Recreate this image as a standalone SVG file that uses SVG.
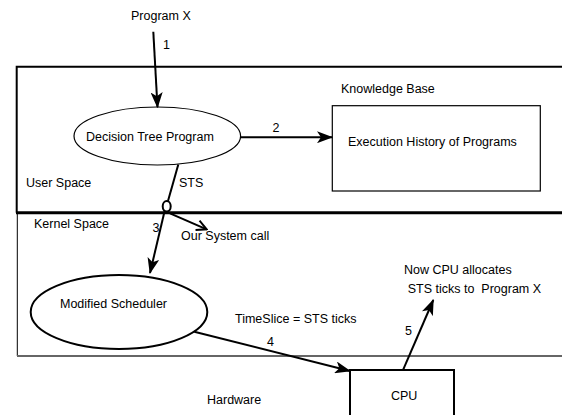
<svg xmlns="http://www.w3.org/2000/svg" width="562" height="415" viewBox="0 0 562 415">
<style>
text{font-family:"Liberation Sans",Arial,sans-serif;font-size:12.5px;fill:#000;white-space:pre}
.c{fill:none;stroke:#000;stroke-width:2}
</style>
<defs>
<marker id="ah" viewBox="0 0 16 12" refX="15" refY="6" markerWidth="16" markerHeight="12" markerUnits="userSpaceOnUse" orient="auto">
<path d="M0,0 L16,6 L0,12 L4,6 z" fill="#000"/>
</marker>
<marker id="open" viewBox="0 0 12 12" refX="11" refY="6" markerWidth="12" markerHeight="12" markerUnits="userSpaceOnUse" orient="auto">
<path d="M1,1 L11,6 L1,11" fill="none" stroke="#000" stroke-width="2"/>
</marker>
</defs>
<rect width="562" height="415" fill="#fff"/>
<g id="user-space">
<path d="M563,66.7 H16.7 V212.7" fill="none" stroke="#000" stroke-width="2"/>
<text x="26" y="187">User Space</text>
</g>
<g id="kernel-space">
<path d="M17.3,212.7 V356" fill="none" stroke="#000" stroke-width="1"/>
<path d="M17,356 H563" fill="none" stroke="#666" stroke-width="2"/>
<text x="34" y="227.5">Kernel Space</text>
</g>
<path d="M16,212.7 H563" fill="none" stroke="#000" stroke-width="3"/>
<g id="hardware"><text x="207" y="404">Hardware</text></g>
<g id="program-x"><text x="131" y="20">Program X</text></g>
<g id="decision-tree">
<ellipse cx="157.3" cy="136" rx="83.3" ry="29" fill="#fff" stroke="#000" stroke-width="1.2"/>
<text x="86" y="141">Decision Tree Program</text>
</g>
<g id="knowledge-base">
<text x="341" y="93">Knowledge Base</text>
<rect x="332.3" y="105.7" width="208" height="85.3" fill="#fff" stroke="#000" stroke-width="1.2"/>
<text x="348" y="146">Execution History of Programs</text>
</g>
<g id="syscall">
<ellipse cx="166.7" cy="206.3" rx="4" ry="5.3" fill="#fff" stroke="#000" stroke-width="2"/>
<text x="181" y="240">Our System call</text>
</g>
<g id="scheduler">
<ellipse cx="119" cy="312" rx="88.3" ry="37" fill="#fff" stroke="#000" stroke-width="2"/>
<text x="60" y="308">Modified Scheduler</text>
</g>
<g id="cpu">
<path d="M350,418 V370 H454 V418" fill="#fff" stroke="#000" stroke-width="2"/>
<text x="391" y="400">CPU</text>
</g>
<g id="note"><text x="404" y="274">Now CPU allocates</text><text x="407.7" y="293" xml:space="preserve">STS ticks to  Program X</text></g>
<g id="connectors">
<line class="c" x1="153.3" y1="31.7" x2="157.5" y2="107.3" marker-end="url(#ah)"/>
<text x="163" y="48.5">1</text>
<line class="c" x1="240.6" y1="137.2" x2="332" y2="137.2" marker-end="url(#ah)"/>
<text x="272.5" y="132">2</text>
<line class="c" x1="178.3" y1="164.5" x2="168" y2="201"/>
<text x="179" y="187">STS</text>
<line class="c" x1="164.5" y1="211.6" x2="150" y2="273" marker-end="url(#ah)"/>
<text x="152.5" y="232">3</text>
<line class="c" x1="170" y1="213.3" x2="206.7" y2="229.3" marker-end="url(#open)"/>
<line class="c" x1="194.3" y1="331.7" x2="350" y2="371" marker-end="url(#ah)"/>
<text x="235" y="323">TimeSlice = STS ticks</text>
<text x="267" y="345.5">4</text>
<line class="c" x1="403.3" y1="369.3" x2="433.3" y2="300" marker-end="url(#ah)"/>
<text x="405" y="335">5</text>
</g>
</svg>
